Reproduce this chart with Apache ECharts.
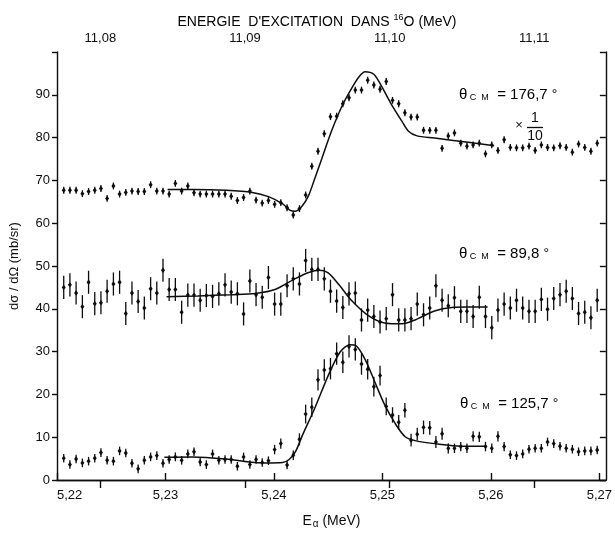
<!DOCTYPE html>
<html><head><meta charset="utf-8">
<script src="https://cdn.jsdelivr.net/npm/echarts@6/dist/echarts.min.js"></script>
<style>html,body{margin:0;padding:0;background:#fff}#c{width:615px;height:534px}</style>
</head><body><div id="c"></div>
<script>
// ---- data ----
const energy = [5.22062,5.22119,5.22176,5.22234,5.22291,5.22348,5.22405,5.22462,5.22520,5.22577,
5.22634,5.22691,5.22748,5.22805,5.22863,5.22920,5.22977,5.23034,5.23091,5.23149,
5.23206,5.23263,5.23320,5.23377,5.23434,5.23492,5.23549,5.23606,5.23663,5.23720,
5.23778,5.23835,5.23892,5.23949,5.24006,5.24063,5.24121,5.24178,5.24235,5.24292,
5.24349,5.24406,5.24464,5.24521,5.24578,5.24635,5.24692,5.24750,5.24807,5.24864,
5.24921,5.24978,5.25035,5.25093,5.25150,5.25207,5.25264,5.25321,5.25379,5.25436,
5.25493,5.25550,5.25607,5.25664,5.25722,5.25779,5.25836,5.25893,5.25950,5.26008,
5.26065,5.26122,5.26179,5.26236,5.26293,5.26351,5.26408,5.26465,5.26522,5.26579,
5.26637,5.26694,5.26751,5.26808,5.26865,5.26922,5.26980];

// theta_CM = 176,7 deg  (x 1/10)
const sig176 = [67.7,67.7,67.7,66.9,67.4,67.7,68.1,65.8,68.7,66.8,
67.2,67.5,67.4,67.4,69.0,67.5,67.5,66.8,69.3,67.5,
68.7,67.1,66.8,66.8,66.8,66.8,66.8,66.3,65.3,66.0,
67.5,65.4,64.7,65.3,64.4,64.8,63.6,61.9,63.4,66.6,
73.3,76.8,80.9,84.9,85.0,87.9,89.3,91.1,91.1,93.4,
92.3,91.3,93.1,88.7,87.9,85.8,84.8,84.8,81.7,81.7,
81.7,77.5,80.4,81.1,78.7,78.0,78.3,78.7,76.2,78.3,
77.0,79.5,77.7,77.6,77.6,78.0,77.0,78.3,77.7,77.6,
78.1,77.7,76.6,78.5,77.7,76.8,78.7];
const err176 = 0.8;

// theta_CM = 89,8 deg
const sig898 = [45.0,45.6,43.7,40.5,46.2,41.2,41.4,44.1,45.8,46.2,
38.9,43.7,41.7,40.2,44.7,43.7,49.0,44.5,44.5,39.2,
43.2,43.2,42.0,43.1,42.9,43.5,45.6,43.9,43.5,38.8,
46.5,43.3,42.7,47.3,41.1,41.1,45.4,47.0,45.8,51.3,
49.2,49.2,47.0,44.1,41.8,40.3,43.5,43.7,37.4,39.7,
38.2,36.9,37.7,43.3,37.4,37.4,37.7,41.1,38.6,40.2,
45.4,42.0,40.7,42.6,39.4,39.4,38.2,42.7,38.2,35.6,
39.7,41.1,40.2,42.0,40.2,39.4,39.4,42.2,39.9,42.4,
43.3,44.1,42.4,38.9,39.2,37.9,42.0];
const err898 = 2.7;

// theta_CM = 125,7 deg
const sig1257 = [5.1,3.6,4.9,4.0,4.4,5.1,6.4,4.6,4.4,6.8,
6.3,3.9,2.6,4.6,5.4,5.7,3.9,4.8,5.4,4.6,
6.1,6.6,4.2,3.6,6.1,4.6,4.8,4.8,3.2,5.4,
3.6,4.8,4.1,4.5,7.1,8.5,3.5,5.8,9.5,15.4,
17.0,23.4,25.7,26.0,29.5,27.5,31.2,30.5,27.1,25.9,
21.8,24.4,17.2,15.2,13.5,16.3,9.3,10.7,12.3,12.2,
8.9,10.8,7.4,7.4,7.8,7.4,10.2,10.1,7.8,7.4,
10.2,7.8,5.9,5.7,6.1,7.2,7.4,7.4,8.9,8.5,
7.9,7.4,7.2,6.6,6.8,6.8,7.0];
const err1257 = [1.0,1.0,1.0,1.0,1.0,1.0,1.0,1.0,1.0,1.0,
1.0,1.0,1.0,1.0,1.0,1.0,1.0,1.0,1.0,1.0,
1.0,1.0,1.0,1.0,1.0,1.0,1.0,1.0,1.0,1.0,
1.0,1.0,1.0,1.0,1.1,1.2,1.0,1.1,1.4,2.2,
2.3,2.5,2.5,2.5,2.6,2.5,2.6,2.6,2.5,2.4,
2.3,2.3,2.1,1.8,1.7,1.7,1.5,1.5,1.6,1.6,
1.4,1.4,1.2,1.1,1.1,1.1,1.2,1.2,1.1,1.1,
1.2,1.1,1.0,1.0,1.0,1.0,1.0,1.0,1.0,1.0,
1.0,1.0,1.0,1.0,1.0,1.0,1.0];

// fitted curves
const fit176E = [5.2302,5.2325,5.2356,5.2380,5.2395,5.2408,5.2415,5.2420,5.2426,5.2432,5.2437,5.2444,5.2453,5.2463,5.2472,5.2479,5.2484,5.2492,5.2499,5.2508,5.2518,5.2524,5.2532,5.2548,5.2579,5.2603];
const fit176V = [67.9,67.9,67.7,67.2,66.2,64.5,63.0,62.8,64.0,66.5,70.0,75.0,81.5,87.5,91.7,94.4,95.4,94.8,92.1,87.9,83.8,81.5,80.4,79.9,78.9,78.1];
const fit898E = [5.2301,5.2330,5.2360,5.2383,5.2401,5.2420,5.2432,5.2442,5.2450,5.2460,5.2472,5.2487,5.2502,5.2518,5.2530,5.2548,5.2564,5.2579,5.2597];
const fit898V = [42.8,43.0,43.3,43.6,44.5,47.1,48.5,49.0,48.4,45.6,41.8,38.4,36.7,36.5,37.4,39.5,40.3,40.4,40.4];
const fit1257E = [5.2299,5.2325,5.2356,5.2377,5.2392,5.2408,5.2414,5.2420,5.2426,5.2438,5.2450,5.2461,5.2470,5.2476,5.2484,5.2493,5.2502,5.2512,5.2521,5.2530,5.2548,5.2573,5.2596];
const fit1257V = [5.3,5.4,4.9,4.2,4.0,4.1,4.8,6.7,10.3,17.0,24.4,29.9,31.6,31.3,28.2,22.9,17.6,13.1,10.1,9.2,8.5,7.9,7.9];

// tick labels
const xTicks = [5.22,5.23,5.24,5.25,5.26,5.27];
const exTicks = [11.08,11.09,11.10,11.11];
const yMin = 0, yMax = 100, yStep = 10;
const xMin = 5.22, xMax = 5.2706;
const exOffset = 7.162, exSlope = 0.75; // E_x(16O) = 7.162 + 0.75 * E_alpha

// ---- chart ----
const INK = '#0d0d0d';
const FONT = '"Liberation Sans", Arial, sans-serif';
const chart = echarts.init(document.getElementById('c'), null, {renderer:'canvas'});
const comma = d => v => v.toFixed(d).replace('.', ',');

function errSeries(vals, errs) {
  return {
    type: 'custom', xAxisIndex: 0, yAxisIndex: 0, z: 5,
    data: energy.map((e, i) => [e, vals[i], Array.isArray(errs) ? errs[i] : errs]),
    encode: {x: 0, y: 1},
    renderItem(params, api) {
      const x = api.value(0), y = api.value(1), e = api.value(2);
      const p = api.coord([x, y]), lo = api.coord([x, y - e]), hi = api.coord([x, y + e]);
      return {type: 'group', children: [
        {type: 'line', shape: {x1: p[0], y1: lo[1], x2: p[0], y2: hi[1]}, style: {stroke: INK, lineWidth: 1.3}},
        {type: 'polygon', shape: {points: [[p[0], p[1] - 2.7], [p[0] + 2.0, p[1]], [p[0], p[1] + 2.7], [p[0] - 2.0, p[1]]]}, style: {fill: INK}}
      ]};
    }
  };
}
function fitSeries(E, V) {
  return {type: 'line', xAxisIndex: 0, yAxisIndex: 0, z: 4, data: E.map((e, i) => [e, V[i]]),
    showSymbol: false, smooth: 0.3, lineStyle: {color: INK, width: 1.5}, silent: true};
}
const lineStyle = {color: INK, width: 1.4};
const txt = {color: INK, fontFamily: FONT, fontSize: 13};

const thetaRich = {
  a: {fontFamily: FONT, fontSize: 15, color: INK, lineHeight: 18, verticalAlign: 'bottom'},
  s: {fontFamily: FONT, fontSize: 9, color: INK, lineHeight: 18, verticalAlign: 'bottom'},
  d: {fontFamily: FONT, fontSize: 14, color: INK, lineHeight: 18, verticalAlign: 'bottom'}
};
function theta(x, y, label) {
  return {type: 'text', x, y, style: {text: '{a|θ}{s| C  M}{a|  = ' + label + ' }{d|°}', rich: thetaRich, align: 'left', verticalAlign: 'middle'}};
}

chart.setOption({
  animation: false,
  backgroundColor: '#fff',
  grid: {left: 54, right: 8, top: 52, bottom: 43, containLabel: false},
  xAxis: [
    {type: 'value', position: 'bottom', min: xMin, max: xMax,
     axisLine: {show: true, lineStyle}, splitLine: {show: false},
     axisTick: {show: true, inside: true, length: 7, customValues: xTicks, lineStyle},
     axisLabel: {customValues: xTicks, formatter: comma(2), margin: 9, alignMinLabel: 'left', ...txt},
     name: '{a|E}{s|α}{a| (MeV)}', nameLocation: 'middle', nameGap: 33,
     nameTextStyle: {rich: {a: {...txt, fontSize: 14}, s: {...txt, fontSize: 10, padding: [6, 0, 0, 1]}}}},
    {type: 'value', position: 'top', min: exOffset + exSlope * xMin, max: exOffset + exSlope * xMax,
     axisLine: {show: true, lineStyle}, splitLine: {show: false},
     axisTick: {show: true, inside: true, length: 8, customValues: exTicks, lineStyle},
     axisLabel: {customValues: exTicks, formatter: comma(2), margin: 7, ...txt}}
  ],
  yAxis: [
    {type: 'value', position: 'left', min: yMin, max: yMax, interval: yStep,
     axisLine: {show: true, lineStyle}, splitLine: {show: false},
     axisTick: {show: true, inside: false, length: 5, lineStyle},
     axisLabel: {formatter: v => v >= yMax ? '' : String(v), margin: 7, ...txt},
     name: 'dσ / dΩ (mb/sr)', nameLocation: 'middle', nameGap: 36, nameRotate: 90,
     nameTextStyle: {...txt}},
    {type: 'value', position: 'right', min: yMin, max: yMax, interval: yStep,
     axisLine: {show: true, lineStyle}, splitLine: {show: false},
     axisTick: {show: true, inside: true, length: 6, lineStyle},
     axisLabel: {show: false}}
  ],
  graphic: [
    {type: 'text', x: 317, y: 21, style: {
      text: '{a|ENERGIE  D\'EXCITATION  DANS }{s|16}{a|O (MeV)}',
      rich: {a: {fontFamily: FONT, fontSize: 14, color: INK, lineHeight: 16, verticalAlign: 'bottom'},
             s: {fontFamily: FONT, fontSize: 9, color: INK, lineHeight: 16, verticalAlign: 'top'}},
      align: 'center', verticalAlign: 'middle'}},
    theta(459, 93, '176,7'),
    theta(459, 252, '89,8'),
    theta(460, 402, '125,7'),
    {type: 'text', x: 519, y: 125, style: {text: '×', font: '13px ' + FONT, fill: INK, align: 'center', verticalAlign: 'middle'}},
    {type: 'text', x: 535, y: 118, style: {text: '1', font: '14px ' + FONT, fill: INK, align: 'center', verticalAlign: 'middle'}},
    {type: 'line', shape: {x1: 527, y1: 127.5, x2: 543, y2: 127.5}, style: {stroke: INK, lineWidth: 1.3}},
    {type: 'text', x: 535, y: 136, style: {text: '10', font: '14px ' + FONT, fill: INK, align: 'center', verticalAlign: 'middle'}}
  ],
  series: [
    fitSeries(fit176E, fit176V),
    fitSeries(fit898E, fit898V),
    fitSeries(fit1257E, fit1257V),
    errSeries(sig176, err176),
    errSeries(sig898, err898),
    errSeries(sig1257, err1257)
  ]
});
</script></body></html>
